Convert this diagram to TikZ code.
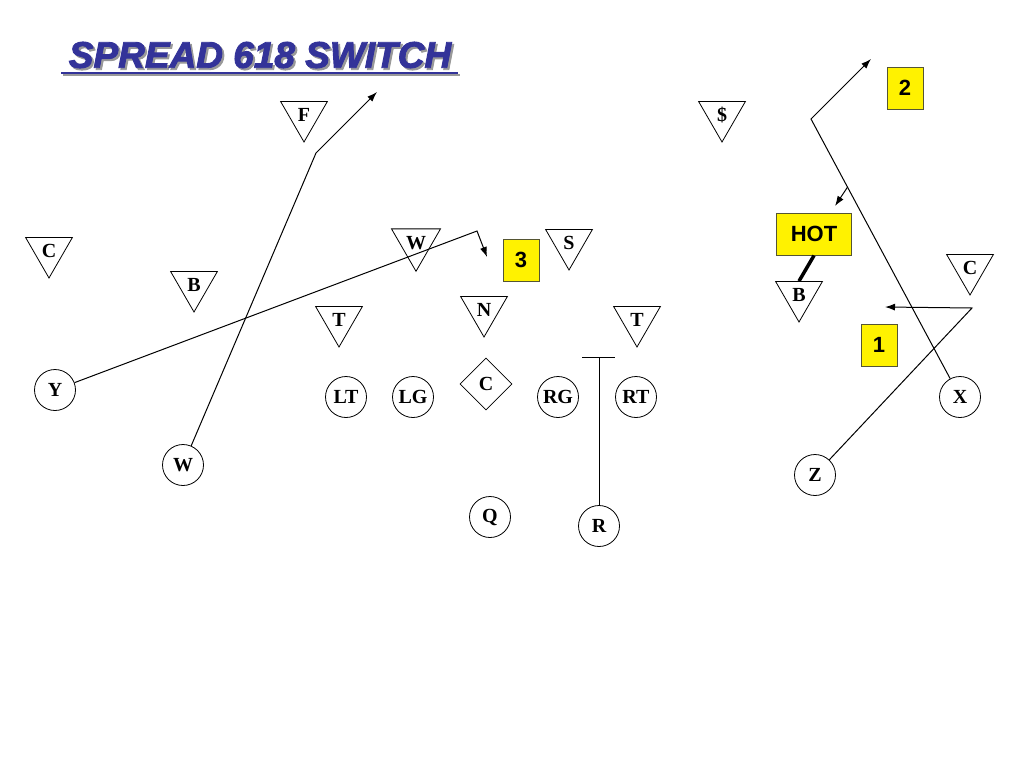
\documentclass[tikz,border=0pt]{standalone}
\usepackage{fontspec}
\setmainfont{Liberation Serif}
\newfontfamily\sansfont{Liberation Sans}
\newfontfamily\titlefont{Liberation Sans}[BoldItalicFeatures={FakeBold=2.5}]
\usetikzlibrary{arrows.meta,shapes.geometric,calc}
\definecolor{titleblue}{HTML}{333399}
\definecolor{tagedge}{HTML}{555533}

\begin{document}
\begin{tikzpicture}[x=1pt, y=-1pt,
  dfn/.style={draw, line width=0.8pt, regular polygon, regular polygon sides=3,
              shape border rotate=180, minimum size=54pt, inner sep=0pt,
              font=\fontsize{20}{20}\selectfont\bfseries},
  plr/.style={draw, line width=0.8pt, circle, minimum size=41pt, inner sep=0pt,
              font=\fontsize{20}{20}\selectfont\bfseries},
  ctr/.style={draw, line width=0.8pt, diamond, minimum size=52pt, inner sep=0pt,
              font=\fontsize{20}{20}\selectfont\bfseries},
  tag/.style={draw=tagedge, line width=1pt, fill=yellow, minimum width=36pt,
              minimum height=42pt, inner sep=0pt,
              font=\sansfont\fontsize{22}{22}\selectfont\bfseries},
  ttl/.style={font=\titlefont\fontsize{37}{37}\selectfont\bfseries\itshape},
  route/.style={line width=1pt},
  arr/.style={route, -{Latex[length=10pt,width=7pt]}}]
\useasboundingbox[fill=white] (0,0) rectangle (1024,768);

% title
\node[ttl, text=black!40] (ttlshadow) at (262,57) {SPREAD 618 SWITCH};
\node[ttl, text=titleblue] (ttl) at (260,55) {SPREAD 618 SWITCH};
\draw[black!40, line width=1.5pt] (63,75) -- (460,75);
\draw[titleblue, line width=1.5pt] (61,73) -- (458,73);

% defense
\node[dfn] (F) at (304,115) {F};
\node[dfn] (dollar) at (722,115) {\$};
\node[dfn] (CL) at (49,251) {C};
\node[dfn] (BL) at (194,285) {B};
\node[dfn] (Wd) at (416,243) {W};
\node[dfn] (S) at (569,243) {S};
\node[dfn] (TL) at (339,320) {T};
\node[dfn] (N) at (484,310) {N};
\node[dfn] (TR) at (637,320) {T};
\node[dfn] (BR) at (799,295) {B};
\node[dfn] (CR) at (970,268) {C};

% offense
\node[plr] (Y) at (55,390) {Y};
\node[plr] (LT) at (346,397) {LT};
\node[plr] (LG) at (413,397) {LG};
\node[ctr] (C) at (486,384) {C};
\node[plr] (RG) at (558,397) {RG};
\node[plr] (RT) at (636,397) {RT};
\node[plr] (X) at (960,397) {X};
\node[plr] (W) at (183,465) {W};
\node[plr] (Z) at (815,475) {Z};
\node[plr] (Q) at (490,517) {Q};
\node[plr] (R) at (599,526) {R};

% reads
\node[tag] (two) at (905,88) {2};
\node[tag] (three) at (521,260) {3};
\node[tag] (one) at (879,345) {1};
\node[tag, minimum width=75pt] (hot) at (814,234) {HOT};

% routes
\coordinate (wbrk) at (316,153);
\coordinate (wtip) at (377,92);
\coordinate (ybrk) at (477,231);
\coordinate (ytip) at (487,257);
\coordinate (rtop) at (599,357);
\coordinate (xbrk) at (811,119);
\coordinate (xtip) at (871,59);
\coordinate (zbrk) at (972,308);
\coordinate (ztip) at (885,307);
\coordinate (hotfrom) at ($(xbrk)!0.245!(X)$);
\coordinate (hotto) at (835,206);

\draw[arr] (W) -- (wbrk) -- (wtip);
\draw[arr] (Y) -- (ybrk) -- (ytip);
\draw[route] (R) -- (rtop);
\draw[route] ($(rtop)+(-17,0)$) -- ($(rtop)+(16,0)$);
\draw[arr] (X) -- (xbrk) -- (xtip);
\draw[arr] (hotfrom) -- (hotto);
\draw[arr] (Z) -- (zbrk) -- (ztip);
\draw[line width=3.5pt] (hot.south) -- (BR.north);
\end{tikzpicture}
\end{document}
